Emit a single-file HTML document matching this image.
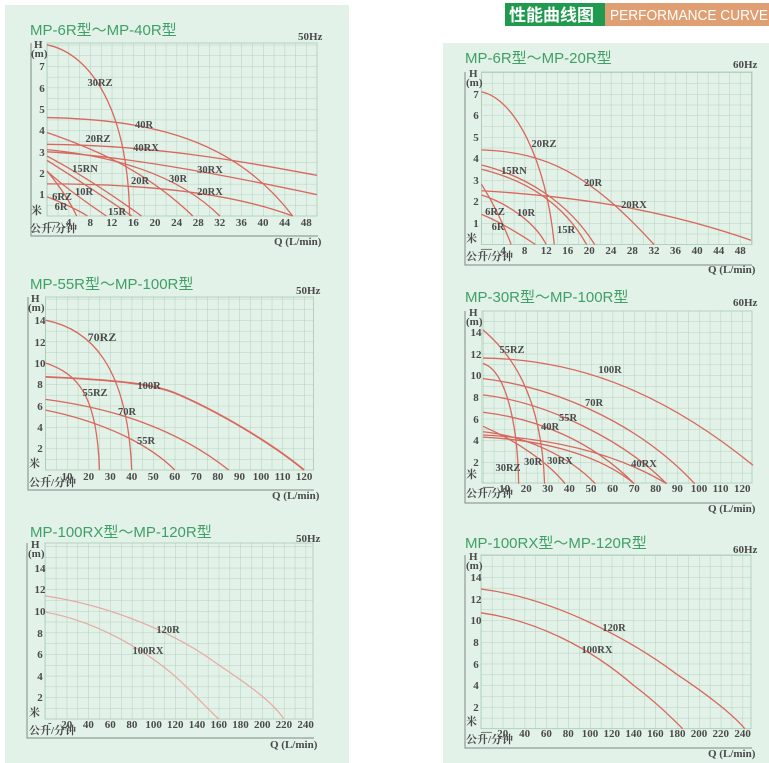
<!DOCTYPE html>
<html><head><meta charset="utf-8"><style>
html,body{margin:0;padding:0;background:#fff;}
svg{display:block}
.t{font-family:"Liberation Sans","Noto Sans CJK SC",sans-serif;font-size:15px;fill:#3f9f66}
.k{font-family:"Liberation Serif","Noto Serif CJK SC",serif;font-size:11px;fill:#4a4a4a;font-weight:bold}
.l{font-family:"Liberation Serif",serif;font-size:10.5px;fill:#4a4a4a;font-weight:bold;text-anchor:middle}
.m{text-anchor:middle}
.c path{fill:none;stroke:#d8675c;stroke-width:1.3;vector-effect:non-scaling-stroke}
.f path{fill:none;stroke:#e6aaa2;stroke-width:1.2;vector-effect:non-scaling-stroke}
.fr{fill:none;stroke:#7d8a82;stroke-width:1}
</style></head><body>
<svg width="769" height="763" viewBox="0 0 769 763" xmlns="http://www.w3.org/2000/svg">
<defs>
<pattern id="p1" patternUnits="userSpaceOnUse" x="47" y="216" width="10.8" height="10.7"><path d="M0 0V10.7M0 0H10.8" stroke="#a9c8b4" stroke-width="0.8" fill="none"/></pattern>
<pattern id="p2" patternUnits="userSpaceOnUse" x="45.5" y="470" width="10.775" height="10.7"><path d="M0 0V10.7M0 0H10.775" stroke="#a9c8b4" stroke-width="0.8" fill="none"/></pattern>
<pattern id="p3" patternUnits="userSpaceOnUse" x="45" y="719" width="10.86" height="10.8"><path d="M0 0V10.8M0 0H10.86" stroke="#a9c8b4" stroke-width="0.8" fill="none"/></pattern>
<pattern id="p4" patternUnits="userSpaceOnUse" x="481.5" y="244.5" width="10.78" height="10.75"><path d="M0 0V10.75M0 0H10.78" stroke="#a9c8b4" stroke-width="0.8" fill="none"/></pattern>
<pattern id="p5" patternUnits="userSpaceOnUse" x="483" y="483.7" width="10.8" height="10.83"><path d="M0 0V10.83M0 0H10.8" stroke="#a9c8b4" stroke-width="0.8" fill="none"/></pattern>
<pattern id="p6" patternUnits="userSpaceOnUse" x="481" y="728.7" width="10.9" height="10.83"><path d="M0 0V10.83M0 0H10.9" stroke="#a9c8b4" stroke-width="0.8" fill="none"/></pattern>
</defs>
<rect x="5" y="5" width="344" height="758" fill="#e2f2e8"/>
<rect x="443" y="43" width="326" height="720" fill="#e2f2e8"/>
<rect x="505" y="3" width="100" height="23" fill="#1f9a4e"/>
<rect x="605" y="3" width="164" height="23" fill="#df9f72"/>
<text x="509" y="21" style="font-family:'Noto Sans CJK SC',sans-serif;font-size:17px;fill:#fff;font-weight:bold">性能曲线图</text>
<text x="610" y="20" style="font-family:'Liberation Sans',sans-serif;font-size:14.5px;fill:#fff" textLength="158" lengthAdjust="spacingAndGlyphs">PERFORMANCE CURVE</text>

<!-- L1 -->
<text class="t" x="30" y="35">MP-6R型～MP-40R型</text>
<text class="k" x="298" y="40" font-size="10">50Hz</text>
<rect x="47" y="43" width="270" height="173" fill="url(#p1)" stroke="#a9c8b4" stroke-width="0.8"/>
<path class="fr" d="M31 43V236H318"/>
<text class="k" x="34" y="48" font-size="9">H</text><text class="k" x="31" y="57" font-size="9">(m)</text>
<g class="k m"><text x="68.6" y="226">4</text><text x="90.2" y="226">8</text><text x="111.8" y="226">12</text><text x="133.4" y="226">16</text><text x="155" y="226">20</text><text x="176.6" y="226">24</text><text x="198.2" y="226">28</text><text x="219.8" y="226">32</text><text x="241.4" y="226">36</text><text x="263" y="226">40</text><text x="284.6" y="226">44</text><text x="306.2" y="226">48</text>
<text x="42" y="198">1</text><text x="42" y="177">2</text><text x="42" y="156">3</text><text x="42" y="134">4</text><text x="42" y="113">5</text><text x="42" y="92">6</text><text x="42" y="70">7</text></g>
<text class="k" x="48" y="225">—</text><text class="k" x="31" y="214">米</text><text class="k" x="30" y="232">公升/分钟</text><text class="k" x="274" y="245" font-size="10">Q (L/min)</text>
<g class="c" transform="translate(47,216) scale(5.4,-21.4)">
<path d="M0,8 C8,7.6 15,5 15.3,0"/><path d="M0,4.6 C20,4.5 35,3.5 45.5,0"/><path d="M0,3.35 C20,3.3 35,2.6 50,1.9"/><path d="M0,3.0 C15,2.8 35,1.8 50,1.0"/><path d="M0,1.5 C20,1.5 35,1 45.5,0"/><path d="M0,3.9 C8,3.2 18,2.2 27,0"/><path d="M0,3.1 C12,2.8 24,2 32,0"/><path d="M0,2.8 C6,2 12,1 17.5,0"/><path d="M0,2.6 C5,1.8 10,1 15.7,0"/><path d="M0,2.1 C3,1.4 8,0.5 11,0"/><path d="M0,2.1 C2,1.5 4,0.8 5.5,0"/><path d="M0,0.9 C2,0.7 5,0.4 7.5,0"/></g>
<g class="l"><text x="100" y="86">30RZ</text><text x="144" y="128">40R</text><text x="98" y="142">20RZ</text><text x="146" y="151">40RX</text><text x="85" y="172">15RN</text><text x="210" y="173">30RX</text><text x="140" y="184">20R</text><text x="178" y="182">30R</text><text x="210" y="195">20RX</text><text x="84" y="195">10R</text><text x="62" y="200">6RZ</text><text x="61" y="210">6R</text><text x="117" y="215">15R</text></g>

<!-- L2 -->
<text class="t" x="30" y="289">MP-55R型～MP-100R型</text>
<text class="k" x="296" y="294" font-size="10">50Hz</text>
<rect x="45.5" y="297" width="268" height="173" fill="url(#p2)" stroke="#a9c8b4" stroke-width="0.8"/>
<path class="fr" d="M28 297V490H314"/>
<text class="k" x="31" y="302" font-size="9">H</text><text class="k" x="28" y="311" font-size="9">(m)</text>
<g class="k m"><text x="67" y="480">10</text><text x="88.6" y="480">20</text><text x="110.2" y="480">30</text><text x="131.7" y="480">40</text><text x="153.3" y="480">50</text><text x="174.8" y="480">60</text><text x="196.4" y="480">70</text><text x="217.9" y="480">80</text><text x="239.5" y="480">90</text><text x="261" y="480">100</text><text x="282.6" y="480">110</text><text x="304.1" y="480">120</text>
<text x="40" y="452">2</text><text x="40" y="431">4</text><text x="40" y="410">6</text><text x="40" y="388">8</text><text x="40" y="367">10</text><text x="40" y="346">12</text><text x="40" y="324">14</text></g>
<text class="k" x="48" y="478">-</text><text class="k" x="29" y="467">米</text><text class="k" x="29" y="486">公升/分钟</text><text class="k" x="272" y="499" font-size="10">Q (L/min)</text>
<g class="c" transform="translate(45.5,470) scale(2.155,-10.7)">
<path d="M0,14 C20,13.2 38,10 40,0"/><path d="M0,10 C15,9 24,7 25,0"/><path d="M0,8.7 C35,8.4 50,8 60,7.2 C80,5.5 105,2.5 120,0" style="stroke-width:1.8"/><path d="M0,6.6 C30,5.8 60,4 85,0"/><path d="M0,5.6 C20,4.8 45,3 60,0"/></g>
<g class="l"><text x="102" y="341" font-size="12">70RZ</text><text x="149" y="389">100R</text><text x="95" y="396">55RZ</text><text x="127" y="415">70R</text><text x="146" y="444">55R</text></g>

<!-- L3 -->
<text class="t" x="30" y="537">MP-100RX型～MP-120R型</text>
<text class="k" x="296" y="542" font-size="10">50Hz</text>
<rect x="45" y="543" width="268" height="176" fill="url(#p3)" stroke="#a9c8b4" stroke-width="0.8"/>
<path class="fr" d="M27 543V738H314"/>
<text class="k" x="31" y="548" font-size="9">H</text><text class="k" x="28" y="557" font-size="9">(m)</text>
<g class="k m"><text x="66.7" y="728">20</text><text x="88.4" y="728">40</text><text x="110.2" y="728">60</text><text x="131.9" y="728">80</text><text x="153.6" y="728">100</text><text x="175.3" y="728">120</text><text x="197" y="728">140</text><text x="218.8" y="728">160</text><text x="240.5" y="728">180</text><text x="262.2" y="728">200</text><text x="283.9" y="728">220</text><text x="305.6" y="728">240</text>
<text x="40" y="701">2</text><text x="40" y="680">4</text><text x="40" y="658">6</text><text x="40" y="637">8</text><text x="40" y="615">10</text><text x="40" y="593">12</text><text x="40" y="572">14</text></g>
<text class="k" x="48" y="726">-</text><text class="k" x="29" y="716">米</text><text class="k" x="29" y="734">公升/分钟</text><text class="k" x="270" y="748" font-size="10">Q (L/min)</text>
<g class="f" transform="translate(45,719) scale(1.086,-10.8)">
<path d="M0,11.4 C60,10.5 120,8 160,5 C190,3 210,1.5 220,0"/><path d="M0,9.9 C50,9 100,6 130,3 C145,1.5 152,0.7 160,0"/></g>
<g class="l"><text x="168" y="633">120R</text><text x="148" y="654">100RX</text></g>

<!-- R1 -->
<text class="t" x="465" y="63">MP-6R型～MP-20R型</text>
<text class="k" x="733" y="68" font-size="10">60Hz</text>
<rect x="481.5" y="72" width="270.5" height="172.5" fill="url(#p4)" stroke="#a9c8b4" stroke-width="0.8"/>
<path class="fr" d="M465 72V265H752"/>
<text class="k" x="469" y="77" font-size="9">H</text><text class="k" x="466" y="86" font-size="9">(m)</text>
<g class="k m"><text x="503.1" y="254">4</text><text x="524.6" y="254">8</text><text x="546.2" y="254">12</text><text x="567.7" y="254">16</text><text x="589.3" y="254">20</text><text x="610.9" y="254">24</text><text x="632.4" y="254">28</text><text x="654" y="254">32</text><text x="675.5" y="254">36</text><text x="697.1" y="254">40</text><text x="718.7" y="254">44</text><text x="740.2" y="254">48</text>
<text x="476" y="227">1</text><text x="476" y="205">2</text><text x="476" y="184">3</text><text x="476" y="162">4</text><text x="476" y="141">5</text><text x="476" y="119">6</text><text x="476" y="98">7</text></g>
<text class="k" x="481" y="252">—</text><text class="k" x="466" y="242">米</text><text class="k" x="466" y="260">公升/分钟</text><text class="k" x="708" y="273" font-size="10">Q (L/min)</text>
<g class="c" transform="translate(481.5,244.5) scale(5.39,-21.5)">
<path d="M0,7.1 C6,6.8 12,4 13.5,0"/><path d="M0,4.4 C12,4.3 20,3.3 32,0"/><path d="M0,2.5 C20,2.2 35,1.5 50,0.2"/><path d="M0,3.7 C8,3.2 16,2 21,0"/><path d="M0,3.5 C8,3 15,2 19.5,0"/><path d="M0,2.3 C5,1.9 10,1 12,0"/><path d="M0,2.8 C2,2 4,1 5.5,0"/><path d="M0,1.4 C3,1.1 7,0.5 10,0"/></g>
<g class="l"><text x="544" y="147">20RZ</text><text x="514" y="174">15RN</text><text x="593" y="186">20R</text><text x="634" y="208">20RX</text><text x="495" y="215">6RZ</text><text x="526" y="216">10R</text><text x="498" y="230">6R</text><text x="566" y="233">15R</text></g>

<!-- R2 -->
<text class="t" x="465" y="302">MP-30R型～MP-100R型</text>
<text class="k" x="733" y="306" font-size="10">60Hz</text>
<rect x="482" y="311" width="270" height="172" fill="url(#p5)" stroke="#a9c8b4" stroke-width="0.8"/>
<path class="fr" d="M465 311V503H752"/>
<text class="k" x="469" y="316" font-size="9">H</text><text class="k" x="466" y="325" font-size="9">(m)</text>
<g class="k m"><text x="504.6" y="492">10</text><text x="526.2" y="492">20</text><text x="547.8" y="492">30</text><text x="569.4" y="492">40</text><text x="591" y="492">50</text><text x="612.6" y="492">60</text><text x="634.2" y="492">70</text><text x="655.8" y="492">80</text><text x="677.4" y="492">90</text><text x="699" y="492">100</text><text x="720.6" y="492">110</text><text x="742.2" y="492">120</text>
<text x="476" y="466">2</text><text x="476" y="444">4</text><text x="476" y="423">6</text><text x="476" y="401">8</text><text x="476" y="379">10</text><text x="476" y="358">12</text><text x="476" y="336">14</text></g>
<text class="k" x="483" y="490">—</text><text class="k" x="466" y="478">米</text><text class="k" x="466" y="497">公升/分钟</text><text class="k" x="708" y="512" font-size="10">Q (L/min)</text>
<g class="c" transform="translate(483,483.7) scale(2.16,-10.83)">
<path d="M0,14.2 C10,12.5 27,9 28.5,0"/><path d="M0,11.1 C10,10.5 16,6 16.5,0"/><path d="M0,11.6 C40,11.5 80,9 125,1.7"/><path d="M0,9.7 C30,9 70,6 98,0"/><path d="M0,8.2 C30,7.5 65,4 85,0"/><path d="M0,6.6 C25,6 50,4 70,0"/><path d="M0,4.5 C30,4.2 60,3 85,0"/><path d="M0,5.3 C15,4 30,2 38,0"/><path d="M0,4.3 C30,4 55,2.5 70,0"/><path d="M0,4.8 C20,4.4 40,2.5 52,0"/></g>
<g class="l"><text x="512" y="353">55RZ</text><text x="610" y="373">100R</text><text x="594" y="406">70R</text><text x="568" y="421">55R</text><text x="550" y="430">40R</text><text x="508" y="471">30RZ</text><text x="533" y="465">30R</text><text x="560" y="464">30RX</text><text x="644" y="467">40RX</text></g>

<!-- R3 -->
<text class="t" x="465" y="548">MP-100RX型～MP-120R型</text>
<text class="k" x="733" y="553" font-size="10">60Hz</text>
<rect x="481" y="555" width="270" height="173.7" fill="url(#p6)" stroke="#a9c8b4" stroke-width="0.8"/>
<path class="fr" d="M465 555V748H752"/>
<text class="k" x="469" y="560" font-size="9">H</text><text class="k" x="466" y="569" font-size="9">(m)</text>
<g class="k m"><text x="502.8" y="737">20</text><text x="524.6" y="737">40</text><text x="546.4" y="737">60</text><text x="568.2" y="737">80</text><text x="590" y="737">100</text><text x="611.8" y="737">120</text><text x="633.6" y="737">140</text><text x="655.4" y="737">160</text><text x="677.2" y="737">180</text><text x="699" y="737">200</text><text x="720.8" y="737">220</text><text x="742.6" y="737">240</text>
<text x="476" y="711">2</text><text x="476" y="689">4</text><text x="476" y="668">6</text><text x="476" y="646">8</text><text x="476" y="624">10</text><text x="476" y="603">12</text><text x="476" y="581">14</text></g>
<text class="k" x="481" y="735">—</text><text class="k" x="466" y="725">米</text><text class="k" x="466" y="743">公升/分钟</text><text class="k" x="708" y="757" font-size="10">Q (L/min)</text>
<g class="c" transform="translate(481,728.7) scale(1.09,-10.83)">
<path d="M0,12.9 C70,12 140,8 180,5 C210,3 232,1.2 242,0"/><path d="M0,10.7 C50,10 100,7.5 140,4 C160,2.5 175,1 185,0"/></g>
<g class="l"><text x="614" y="631">120R</text><text x="597" y="653">100RX</text></g>
</svg>
</body></html>
